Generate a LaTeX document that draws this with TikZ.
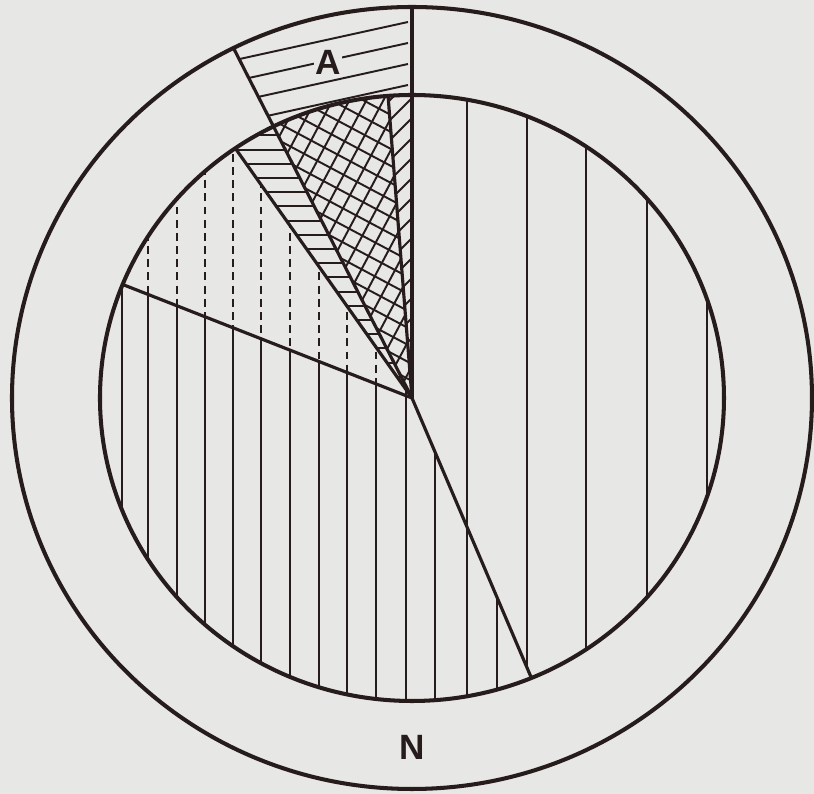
\documentclass[tikz,border=0pt]{standalone}
\usepackage{fontspec}
\newfontfamily\letterfont{Liberation Sans}
\definecolor{ink}{RGB}{38,28,28}
\definecolor{paper}{RGB}{231,231,229}

\begin{document}
\begin{tikzpicture}[
    x=0.02cm, y=0.02cm,
    rim/.style={draw=ink, line width=2.3pt},
    divider/.style={draw=ink, line width=1.8pt},
    hatch/.style={draw=ink, line width=1.1pt},
    dashhatch/.style={hatch, dash pattern=on 4.5pt off 3pt},
    letter/.style={font=\letterfont\bfseries\fontsize{20}{24}\selectfont, text=ink, inner sep=1pt}
]

% paper
\fill[paper] (-412,-396) rectangle (402,398);

% corners of the sectors
\coordinate (V) at (0,0);
\coordinate (top) at (90:400 and 391);
\coordinate (a1) at (116.5:400 and 391);
\coordinate (i90) at (90:312 and 303);
\coordinate (i94) at (94.4:312 and 303);
\coordinate (i116) at (116.5:312 and 303);
\coordinate (i124) at (124.5:312 and 303);
\coordinate (i158) at (158:312 and 303);
\coordinate (i292) at (292.5:312 and 303);

% Sector A in the ring
\begin{scope}
    \clip (top) arc[start angle=90, end angle=116.5, x radius=400, y radius=391]
        -- (i116) arc[start angle=116.5, end angle=90, x radius=312, y radius=303] -- cycle;
    \foreach \y in {313,334,355,376}
        \draw[hatch] (-4,\y) -- ++(192.4:240);
\end{scope}
\node[letter, fill=paper] (A) at (-84,336) {A};

% thin sector
\begin{scope}
    \clip (V) -- (i90) arc[start angle=90, end angle=94.4, x radius=312, y radius=303] -- cycle;
    \foreach \k in {-2,...,18}
        \draw[hatch] (-60,{20*\k-60}) -- ++(45:120);
\end{scope}

% cross hatched sector
\begin{scope}
    \clip (V) -- (i94) arc[start angle=94.4, end angle=116.5, x radius=312, y radius=303] -- cycle;
    \foreach \k in {-25,...,25} {
        \draw[hatch, rotate=-28] (-400,{15*\k}) -- (400,{15*\k});
        \draw[hatch, rotate=62] (-400,{15*\k}) -- (400,{15*\k});
    }
\end{scope}

% horizontal lines
\begin{scope}
    \clip (V) -- (i116) arc[start angle=116.5, end angle=124.5, x radius=312, y radius=303] -- cycle;
    \foreach \k in {0,...,18}
        \draw[hatch] (-300,{7+14.2*\k}) -- (0,{7+14.2*\k});
\end{scope}

% dashed verticals
\begin{scope}
    \clip (V) -- (i124) arc[start angle=124.5, end angle=158, x radius=312, y radius=303] -- cycle;
    \foreach \x in {-290,-264,-235,-207,-179,-151,-122,-93,-65,-36,-6}
        \draw[dashhatch] (\x,310) -- (\x,-10);
\end{scope}

% solid verticals, left
\begin{scope}
    \clip (V) -- (i158) arc[start angle=158, end angle=292.5, x radius=312, y radius=303] -- cycle;
    \foreach \x in {-290,-264,-235,-207,-179,-151,-122,-93,-65,-36,-6,23,55,85}
        \draw[hatch] (\x,310) -- (\x,-310);
\end{scope}

% solid verticals, right
\begin{scope}
    \clip (V) -- (i292) arc[start angle=-67.5, end angle=90, x radius=312, y radius=303] -- cycle;
    \foreach \x in {55,115,174,235,295}
        \draw[hatch, line width=1pt] (\x,310) -- (\x,-310);
\end{scope}

% circles and dividers
\draw[rim] (V) ellipse[x radius=400, y radius=391];
\draw[rim] (V) ellipse[x radius=312, y radius=303];
\draw[divider] (top) -- (V);
\draw[divider] (a1) -- (V);
\draw[divider] (i94) -- (V);
\draw[divider] (i124) -- (V);
\draw[divider] (i158) -- (V);
\draw[divider] (V) -- (i292);

\node[letter] (N) at (0,-349) {N};

\end{tikzpicture}
\end{document}
